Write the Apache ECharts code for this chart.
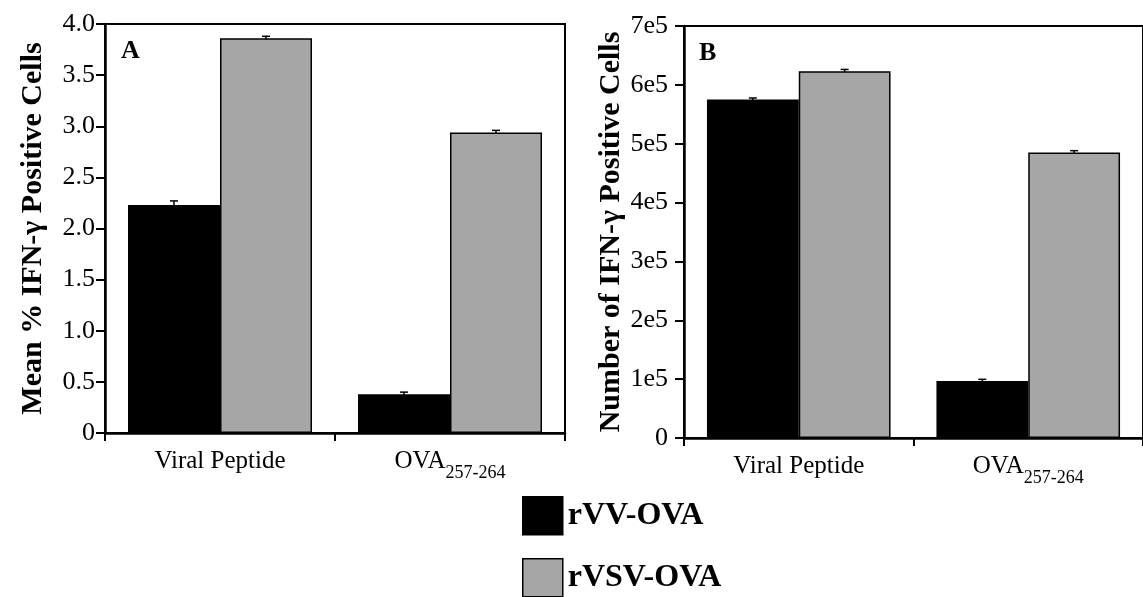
<!DOCTYPE html>
<html>
<head>
<meta charset="utf-8">
<style>
  html, body { margin: 0; padding: 0; background: #fff; }
  #chart { width: 1143px; height: 597px; }
</style>
<script src="https://cdn.jsdelivr.net/npm/echarts@6/dist/echarts.min.js"></script>
</head>
<body>
<div id="chart"></div>
<script>
// Stimulation peptides on the x axis
const categories = ['Viral Peptide', 'OVA_257-264'];
const seriesNames = ['rVV-OVA', 'rVSV-OVA'];

// Panel A: mean % IFN-γ positive cells
const pctVV = [2.23, 0.38];
const pctVSV = [3.86, 2.94];
const pctVVErr = [0.03, 0.01];
const pctVSVErr = [0.01, 0.01];
const ticksA = ['0', '0.5', '1.0', '1.5', '2.0', '2.5', '3.0', '3.5', '4.0'];

// Panel B: number of IFN-γ positive cells
const numVV = [575000, 97000];
const numVSV = [623000, 485000];
const numVVErr = [1000, 1000];
const numVSVErr = [1500, 1500];
const ticksB = ['0', '1e5', '2e5', '3e5', '4e5', '5e5', '6e5', '7e5'];

const SERIF = 'Liberation Serif, Times New Roman, serif';
const BLACK = '#000000';
const GREY = '#a6a6a6';

function catLabel(v) {
  if (v.indexOf('_') >= 0) {
    const parts = v.split('_');
    return '{m|' + parts[0] + '}{s|' + parts[1] + '}';
  }
  return '{m|' + v + '}';
}

const xLabelRich = {
  m: { fontFamily: SERIF, fontSize: 25, color: '#000', lineHeight: 30, verticalAlign: 'top' },
  s: { fontFamily: SERIF, fontSize: 18, color: '#000', lineHeight: 20, padding: [15, 0, 0, 0], verticalAlign: 'top' }
};

function xAxisFor(gridIndex) {
  return {
    type: 'category', gridIndex: gridIndex, data: categories,
    axisLine: { lineStyle: { color: '#000', width: 2.5 } },
    axisTick: { show: true, length: 8, lineStyle: { color: '#000', width: 2 } },
    axisLabel: { formatter: catLabel, rich: xLabelRich, margin: 16, interval: 0 },
    splitLine: { show: false }
  };
}

function yAxisFor(gridIndex, max, interval, ticks, name, margin) {
  return {
    type: 'value', gridIndex: gridIndex, min: 0, max: max, interval: interval,
    name: name, nameLocation: 'middle', nameGap: 57,
    nameTextStyle: { fontFamily: SERIF, fontSize: 30, fontWeight: 'bold', color: '#000' },
    axisLine: { show: true, lineStyle: { color: '#000', width: 2.5 } },
    axisTick: { show: true, length: 9, lineStyle: { color: '#000', width: 2 } },
    axisLabel: {
      fontFamily: SERIF, fontSize: 26, color: '#000', margin: margin,
      formatter: function (v) { return ticks[Math.round(v / interval)]; }
    },
    splitLine: { show: false }
  };
}

function barSeries(name, data, color, idx) {
  return {
    type: 'bar', name: name, data: data,
    xAxisIndex: idx, yAxisIndex: idx,
    barWidth: '40%', barGap: '0%',
    itemStyle: { color: color, borderColor: '#000', borderWidth: 1.5 },
    emphasis: { disabled: true }
  };
}

// Small error whiskers on top of each bar
function errSeries(values, errs, side, idx) {
  const data = values.map(function (v, i) { return [i, v, errs[i]]; });
  return {
    type: 'custom', xAxisIndex: idx, yAxisIndex: idx, silent: true, z: 5,
    data: data,
    renderItem: function (params, api) {
      const band = api.size([1, 0])[0];
      const c = api.value(0), v = api.value(1), e = api.value(2);
      const top = api.coord([c, v + e]);
      const bot = api.coord([c, v - e]);
      const x = top[0] + side * band * 0.2;
      const cap = 4;
      return {
        type: 'group',
        children: [
          { type: 'line', shape: { x1: x, y1: bot[1], x2: x, y2: top[1] - 1 }, style: { stroke: '#000', lineWidth: 1.5 } },
          { type: 'line', shape: { x1: x - cap, y1: top[1] - 1, x2: x + cap, y2: top[1] - 1 }, style: { stroke: '#000', lineWidth: 1.5 } }
        ]
      };
    }
  };
}

function legendFor(name, color, top) {
  return {
    orient: 'vertical', left: 517, top: top,
    itemWidth: 40, itemHeight: 38, itemGap: 8,
    selectedMode: false,
    textStyle: { fontFamily: SERIF, fontSize: 32, fontWeight: 'bold', color: '#000' },
    data: [{ name: name, icon: 'rect', itemStyle: { color: color, borderColor: '#000', borderWidth: 1.5 } }]
  };
}

const chart = echarts.init(document.getElementById('chart'), null, { renderer: 'canvas' });

chart.setOption({
  animation: false,
  backgroundColor: '#ffffff',
  textStyle: { fontFamily: SERIF },
  grid: [
    { left: 105, top: 24, width: 460, height: 409, show: true, borderColor: '#000', borderWidth: 2 },
    { left: 684, top: 26, width: 460, height: 412, show: true, borderColor: '#000', borderWidth: 2 }
  ],
  xAxis: [xAxisFor(0), xAxisFor(1)],
  yAxis: [
    yAxisFor(0, 4, 0.5, ticksA, 'Mean % IFN-γ Positive Cells', 10),
    yAxisFor(1, 700000, 100000, ticksB, 'Number of IFN-γ Positive Cells', 16)
  ],
  legend: [
    legendFor(seriesNames[0], BLACK, 491),
    legendFor(seriesNames[1], GREY, 553)
  ],
  graphic: [
    { type: 'text', left: 121, top: 38, style: { text: 'A', fontFamily: SERIF, fontSize: 26, fontWeight: 'bold', fill: '#000' } },
    { type: 'text', left: 699, top: 40, style: { text: 'B', fontFamily: SERIF, fontSize: 26, fontWeight: 'bold', fill: '#000' } }
  ],
  series: [
    barSeries(seriesNames[0], pctVV, BLACK, 0),
    barSeries(seriesNames[1], pctVSV, GREY, 0),
    barSeries(seriesNames[0], numVV, BLACK, 1),
    barSeries(seriesNames[1], numVSV, GREY, 1),
    errSeries(pctVV, pctVVErr, -1, 0),
    errSeries(pctVSV, pctVSVErr, 1, 0),
    errSeries(numVV, numVVErr, -1, 1),
    errSeries(numVSV, numVSVErr, 1, 1)
  ]
});
</script>
</body>
</html>
